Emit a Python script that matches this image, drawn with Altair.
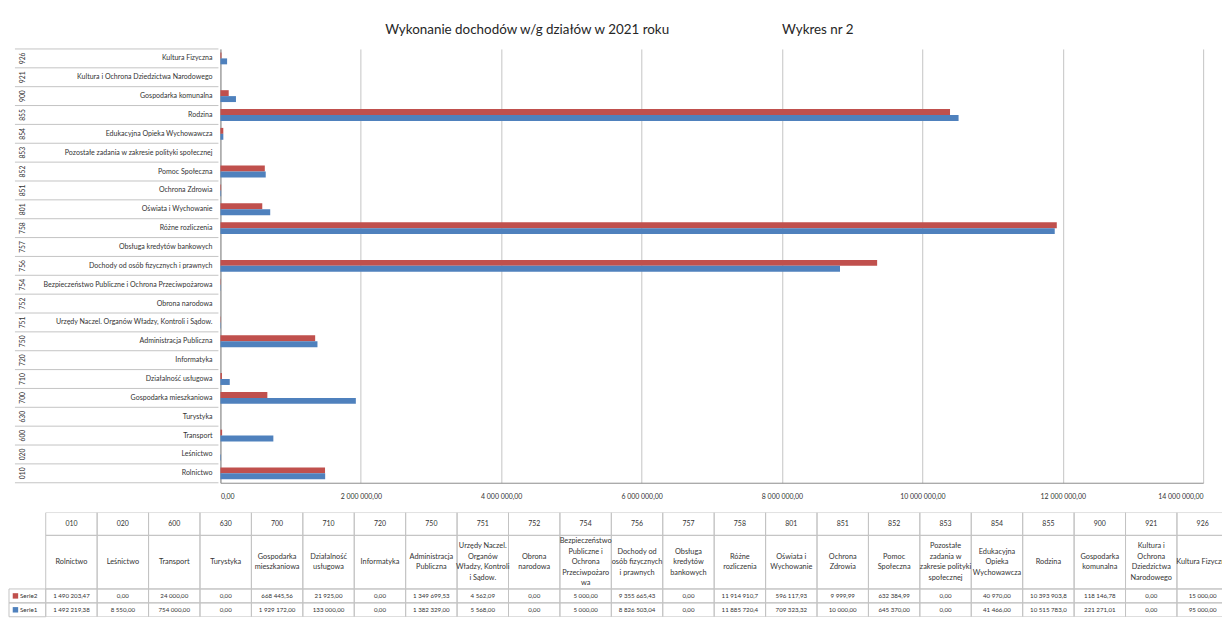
import altair as alt
import pandas as pd

# ---------------- data ----------------
codes = ["010", "020", "600", "630", "700", "710", "720", "750", "751", "752", "754",
         "756", "757", "758", "801", "851", "852", "853", "854", "855", "900", "921", "926"]

names_axis = [
    "Rolnictwo", "Leśnictwo", "Transport", "Turystyka", "Gospodarka mieszkaniowa",
    "Działalność usługowa", "Informatyka", "Administracja Publiczna",
    "Urzędy Naczel. Organów Władzy, Kontroli i Sądow.", "Obrona narodowa",
    "Bezpieczeństwo Publiczne i Ochrona Przeciwpożarowa",
    "Dochody od osób fizycznych i prawnych", "Obsługa kredytów bankowych",
    "Różne rozliczenia", "Oświata i Wychowanie", "Ochrona Zdrowia", "Pomoc Społeczna",
    "Pozostałe zadania w zakresie polityki społecznej", "Edukacyjna Opieka Wychowawcza",
    "Rodzina", "Gospodarka komunalna", "Kultura i Ochrona Dziedzictwa Narodowego",
    "Kultura Fizyczna",
]

names_table = [
    "Rolnictwo", "Leśnictwo", "Transport", "Turystyka", "Gospodarka\nmieszkaniowa",
    "Działalność\nusługowa", "Informatyka", "Administracja\nPubliczna",
    "Urzędy Naczel.\nOrganów\nWładzy, Kontroli\ni Sądow.", "Obrona\nnarodowa",
    "Bezpieczeństwo\nPubliczne i\nOchrona\nPrzeciwpożaro\nwa",
    "Dochody od\nosób fizycznych\ni prawnych", "Obsługa\nkredytów\nbankowych",
    "Różne\nrozliczenia", "Oświata i\nWychowanie", "Ochrona\nZdrowia", "Pomoc\nSpołeczna",
    "Pozostałe\nzadania w\nzakresie polityki\nspołecznej", "Edukacyjna\nOpieka\nWychowawcza",
    "Rodzina", "Gospodarka\nkomunalna", "Kultura i\nOchrona\nDziedzictwa\nNarodowego",
    "Kultura Fizyczna",
]

serie2 = [1490203.47, 0.00, 24000.00, 0.00, 668445.56, 21925.00, 0.00, 1349699.53,
          4562.09, 0.00, 5000.00, 9355665.43, 0.00, 11914910.7, 596117.93, 9999.99,
          632384.99, 0.00, 40970.00, 10393903.8, 118146.78, 0.00, 15000.00]

serie1 = [1492219.38, 8550.00, 754000.00, 0.00, 1929172.00, 133000.00, 0.00, 1382329.00,
          5568.00, 0.00, 5000.00, 8826503.04, 0.00, 11885720.4, 709323.32, 10000.00,
          645370.00, 0.00, 41466.00, 10515783.0, 221271.01, 0.00, 95000.00]

x_ticks = [0, 2000000, 4000000, 6000000, 8000000, 10000000, 12000000, 14000000]
series_names = ["Serie2", "Serie1"]
series_colors = ["#C0504D", "#4F81BD"]

title_main = "Wykonanie dochodów w/g działów w 2021 roku"
title_right = "Wykres nr 2"

# ---------------- style / layout ----------------
FONT = "Lato"
TXT = "#333333"
GRID = "#c4c4c4"
AXIS = "#8c8c8c"
LAB_W = 211
BAR_W = 990
PLOT_H = 437
TAB_W = 1222
TAB_H = 105
LEG_W = 37
COL_W = 51.8
NAME_LH = 10.6

order_top = list(reversed(codes))

lab_df = pd.DataFrame({"code": codes, "name": names_axis})
bars_df = pd.DataFrame({
    "code": codes * 2,
    "series": ["Serie2"] * len(codes) + ["Serie1"] * len(codes),
    "value": serie2 + serie1,
})
tab_df = pd.DataFrame({"code": codes, "name": names_table})

color_enc = alt.Color("series:N", scale=alt.Scale(domain=series_names, range=series_colors),
                      legend=None)

# ---------------- label panel (left of bars) ----------------
lab_scale_y = alt.Scale(type="band", paddingInner=0, paddingOuter=0)
lab_scale_x = alt.Scale(domain=[0, LAB_W])
lab_base = alt.Chart(lab_df)

row_lines = lab_base.mark_rule(color=GRID, strokeWidth=1).encode(
    x=alt.X(datum=6, type="quantitative", scale=lab_scale_x, axis=None),
    x2=alt.datum(LAB_W),
    y=alt.Y("code:N", sort=order_top, axis=None, bandPosition=0, scale=lab_scale_y),
)
bottom_line = lab_base.mark_rule(color=GRID, strokeWidth=1).encode(
    x=alt.X(datum=6, type="quantitative", scale=lab_scale_x, axis=None),
    x2=alt.datum(LAB_W),
    y=alt.Y("code:N", sort=order_top, axis=None, bandPosition=1, scale=lab_scale_y),
).transform_filter(alt.datum.code == "010")

code_text = lab_base.mark_text(angle=270, fontSize=6.8, font=FONT, color=TXT,
                               baseline="middle", align="center").encode(
    x=alt.X(datum=14, type="quantitative", scale=lab_scale_x, axis=None),
    y=alt.Y("code:N", sort=order_top, axis=None, scale=lab_scale_y),
    text="code:N",
)
name_text = lab_base.mark_text(align="right", baseline="middle", fontSize=7.1, font=FONT,
                               color=TXT).encode(
    x=alt.X(datum=205, type="quantitative", scale=lab_scale_x, axis=None),
    y=alt.Y("code:N", sort=order_top, axis=None, scale=lab_scale_y),
    text="name:N",
)
labels = alt.layer(row_lines, bottom_line, code_text, name_text).properties(
    width=LAB_W, height=PLOT_H)

# ---------------- bars ----------------
label_expr = ("replace(replace(format(datum.value, ',.2f'), regexp(',', 'g'), ' '), '.', ',')")

bars = alt.Chart(bars_df).mark_bar().encode(
    y=alt.Y("code:N", sort=order_top,
            scale=alt.Scale(paddingInner=0.37, paddingOuter=0.185),
            axis=alt.Axis(labels=False, ticks=False, title=None, domain=True,
                          domainColor=AXIS, grid=False)),
    yOffset=alt.YOffset("series:N", sort=series_names, scale=alt.Scale(paddingInner=0)),
    x=alt.X("value:Q", scale=alt.Scale(domain=[0, 14000000], nice=False),
            axis=alt.Axis(values=x_ticks, grid=True, gridColor=GRID, ticks=False, tickSize=0,
                          domainColor=AXIS, labelExpr=label_expr, labelFontSize=7,
                          labelPadding=10, labelFont=FONT, labelColor=TXT, title=None)),
    color=color_enc,
).properties(width=BAR_W, height=PLOT_H)

top_row = alt.hconcat(labels, bars, spacing=0)

# ---------------- data table ----------------
tab_x = alt.X("code:N", sort=codes, axis=None,
              scale=alt.Scale(type="band", range=[LEG_W, LEG_W + COL_W * len(codes)],
                              paddingInner=0, paddingOuter=0))
tab_y_scale = alt.Scale(domain=[0, TAB_H], reverse=True)
tab_base = alt.Chart(tab_df)

row_top = {"code": 0, "name": 23, "Serie2": 77, "Serie1": 91}
row_bot = {"code": 23, "name": 77, "Serie2": 91, "Serie1": 105}

cells = alt.layer(*[
    tab_base.mark_rect(fillOpacity=0, stroke=GRID, strokeWidth=1, clip=True).encode(
        x=tab_x,
        y=alt.Y(datum=row_top[r], type="quantitative", scale=tab_y_scale, axis=None),
        y2=alt.datum(row_bot[r]),
    ) for r in ["code", "name", "Serie2", "Serie1"]
])

code_row = tab_base.mark_text(fontSize=7, font=FONT, color=TXT, clip=True).encode(
    x=tab_x,
    y=alt.Y(datum=11.5, type="quantitative", scale=tab_y_scale, axis=None),
    text="code:N",
)
name_row = tab_base.transform_calculate(
    nl="length(split(datum.name, '\\n'))",
    ty=f"50 - (datum.nl - 1) * {NAME_LH / 2}",
).mark_text(fontSize=7.4, font=FONT, color=TXT, lineBreak="\n",
            lineHeight=NAME_LH, baseline="middle", clip=True).encode(
    x=tab_x,
    y=alt.Y("ty:Q", scale=tab_y_scale, axis=None),
    text="name:N",
)

val_expr = ("replace(replace(datum.value >= 10000000 ? format(datum.value, ',.1f') : "
            "format(datum.value, ',.2f'), regexp(',', 'g'), ' '), '.', ',')")
values_row = alt.Chart(bars_df).transform_calculate(
    label=val_expr,
    ty="datum.series == 'Serie2' ? 84 : 98",
).mark_text(fontSize=6.2, font=FONT, color=TXT, clip=True).encode(
    x=tab_x,
    y=alt.Y("ty:Q", scale=tab_y_scale, axis=None),
    text="label:N",
)

leg_df = pd.DataFrame({"series": series_names})
leg_cells = alt.Chart(leg_df).transform_calculate(
    t="datum.series == 'Serie2' ? 77 : 91",
    b="datum.series == 'Serie2' ? 91 : 105",
).mark_rect(fillOpacity=0, stroke=GRID, strokeWidth=1).encode(
    x=alt.value(0), x2=alt.value(LEG_W),
    y=alt.Y("t:Q", scale=tab_y_scale, axis=None), y2="b:Q",
)
leg_sq = alt.Chart(leg_df).transform_calculate(
    ty="datum.series == 'Serie2' ? 84 : 98",
).mark_square(size=30, opacity=1).encode(
    x=alt.value(6.5),
    y=alt.Y("ty:Q", scale=tab_y_scale, axis=None),
    color=color_enc,
)
leg_txt = alt.Chart(leg_df).transform_calculate(
    ty="datum.series == 'Serie2' ? 84 : 98",
).mark_text(align="left", fontSize=6.4, font=FONT, color=TXT).encode(
    x=alt.value(11),
    y=alt.Y("ty:Q", scale=tab_y_scale, axis=None),
    text="series:N",
)

table = alt.layer(cells, leg_cells, code_row, name_row, values_row, leg_sq, leg_txt).properties(
    width=TAB_W, height=TAB_H)

chart = alt.vconcat(top_row, table, spacing=11).properties(
    title=alt.TitleParams(text=title_main + "\u00a0" * 33 + title_right, anchor="start", dx=380,
                          fontSize=13.5, font=FONT, fontWeight="normal", color="#262626",
                          offset=12),
    padding={"left": 0, "top": 12, "right": 0, "bottom": 0},
).configure_view(stroke="transparent")

chart.save("out.html", embed_options={"renderer": "svg", "actions": False})
